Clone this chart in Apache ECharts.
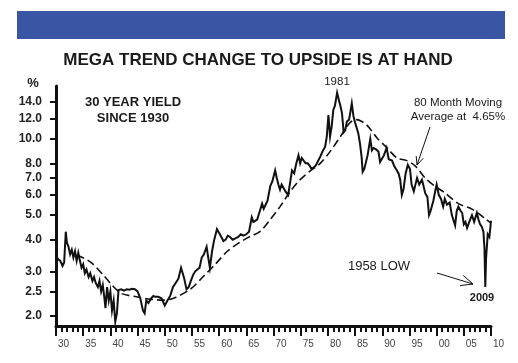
<!DOCTYPE html>
<html><head><meta charset="utf-8">
<script src="https://cdn.jsdelivr.net/npm/echarts@6/dist/echarts.min.js"></script>
<style>html,body{margin:0;padding:0;background:#fff}#c{width:518px;height:363px}</style>
</head><body><div id="c"></div><script>
// 30-year yield, [year, percent]
const yieldPoints = [
[1930.0,3.45],[1930.4,3.35],[1930.8,3.3],[1931.2,3.15],[1931.5,3.25],[1931.8,4.3],[1932.0,3.9],[1932.3,3.75],[1932.6,3.5],[1932.9,3.65],
[1933.2,3.4],[1933.5,3.6],[1933.8,3.3],[1934.1,3.55],[1934.4,3.3],[1934.7,3.1],[1935.0,3.2],[1935.3,2.95],[1935.6,3.05],[1936.0,2.85],
[1936.3,2.95],[1936.7,2.75],[1937.0,2.85],[1937.3,2.7],[1937.7,2.6],[1938.0,2.75],[1938.3,2.5],[1938.6,2.65],[1938.9,2.35],[1939.1,2.15],
[1939.4,2.6],[1939.7,2.3],[1940.0,2.5],[1940.3,2.1],[1940.6,2.3],[1940.9,1.9],[1941.2,2.05],[1941.5,2.53],[1942.0,2.55],[1942.5,2.52],
[1943.0,2.55],[1943.5,2.54],[1944.0,2.56],[1944.5,2.55],[1945.0,2.5],[1945.5,2.35],[1946.0,2.1],[1946.3,2.05],[1946.6,2.3],[1947.0,2.25],
[1947.5,2.35],[1947.9,2.4],[1948.3,2.38],[1948.8,2.38],[1949.4,2.35],[1950.0,2.2],[1950.5,2.3],[1951.0,2.4],[1951.5,2.6],[1952.0,2.7],
[1952.5,2.8],[1953.0,3.1],[1953.3,2.95],[1953.6,2.8],[1954.0,2.55],[1954.4,2.6],[1954.8,2.75],[1955.2,2.9],[1955.6,3.0],[1956.0,3.05],
[1956.4,3.1],[1956.8,3.4],[1957.2,3.5],[1957.7,3.75],[1958.0,3.4],[1958.3,3.1],[1958.7,3.6],[1959.1,4.0],[1959.6,4.4],[1960.0,4.25],
[1960.4,4.1],[1960.8,3.95],[1961.2,4.0],[1961.6,4.15],[1962.0,4.1],[1962.5,4.0],[1963.0,4.05],[1963.5,4.1],[1964.0,4.2],[1964.5,4.15],
[1965.0,4.2],[1965.5,4.3],[1966.0,4.9],[1966.3,4.7],[1966.6,4.65],[1967.0,4.8],[1967.5,5.2],[1967.9,5.55],[1968.2,5.3],[1968.5,5.25],
[1968.9,5.7],[1969.4,6.5],[1969.8,6.8],[1970.3,7.5],[1970.6,7.0],[1970.9,6.6],[1971.2,6.3],[1971.5,6.6],[1971.8,6.5],[1972.2,6.2],
[1972.7,6.0],[1973.0,6.6],[1973.4,7.5],[1973.8,7.3],[1974.2,8.0],[1974.6,8.6],[1974.9,8.0],[1975.2,8.4],[1975.5,8.3],[1975.9,8.0],
[1976.3,8.0],[1976.7,7.8],[1977.0,7.6],[1977.3,7.55],[1977.7,7.8],[1978.1,8.1],[1978.6,8.5],[1979.0,8.9],[1979.5,9.3],[1979.8,10.2],
[1980.1,12.4],[1980.4,10.2],[1980.7,11.2],[1981.0,13.0],[1981.3,13.5],[1981.7,15.2],[1982.0,14.3],[1982.3,13.5],[1982.6,12.6],[1982.9,10.6],
[1983.2,10.8],[1983.5,11.7],[1983.9,11.9],[1984.4,13.8],[1984.7,12.3],[1985.0,11.6],[1985.3,11.8],[1985.6,10.5],[1985.9,9.6],[1986.2,8.5],
[1986.4,7.4],[1986.7,7.6],[1986.9,7.7],[1987.3,8.6],[1987.8,10.0],[1988.1,9.0],[1988.4,9.2],[1988.8,9.1],[1989.3,8.9],[1989.6,8.1],
[1989.9,8.0],[1990.3,8.6],[1990.8,9.2],[1991.2,8.3],[1991.5,8.4],[1991.8,8.2],[1992.2,7.8],[1992.7,7.5],[1993.0,7.3],[1993.3,6.9],
[1993.6,6.0],[1993.9,6.3],[1994.3,7.3],[1994.7,7.9],[1995.1,7.6],[1995.4,6.6],[1995.8,6.2],[1996.1,6.3],[1996.4,7.0],[1996.8,6.6],
[1997.3,6.9],[1997.6,6.5],[1997.9,6.1],[1998.3,5.9],[1998.6,5.0],[1998.9,5.2],[1999.4,5.7],[1999.8,6.3],[2000.0,6.6],[2000.4,6.0],
[2000.8,5.8],[2001.2,5.4],[2001.5,5.8],[2001.9,5.5],[2002.4,5.6],[2002.8,5.0],[2003.1,5.0],[2003.4,4.55],[2003.7,5.2],[2004.0,5.4],
[2004.4,5.2],[2004.7,5.1],[2005.0,4.6],[2005.3,4.7],[2005.6,4.45],[2006.0,4.7],[2006.5,5.0],[2006.9,4.7],[2007.4,5.1],[2007.7,4.8],
[2008.0,4.6],[2008.3,4.5],[2008.6,4.3],[2008.8,3.7],[2008.95,2.6],[2009.1,3.4],[2009.4,4.2],[2009.7,4.1],[2009.9,4.5],[2010.0,4.75]
];
// 80-month moving average, [year, percent]
const maPoints = [
[1933.8,3.48],[1936.3,3.27],[1938.7,2.9],[1940.5,2.62],[1942.1,2.45],[1944.8,2.38],[1947.3,2.33],[1949.7,2.31],[1951.6,2.35],
[1954.7,2.55],[1957.0,2.85],[1959.3,3.2],[1961.5,3.6],[1963.6,3.88],[1965.5,4.1],[1967.5,4.3],[1969.4,4.8],[1971.2,5.4],[1973.1,6.2],
[1974.9,6.9],[1976.7,7.45],[1978.6,8.0],[1980.4,8.9],[1982.3,10.2],[1984.1,11.6],[1985.3,11.9],[1987.2,11.3],[1989.0,10.1],[1990.9,9.2],
[1992.7,8.4],[1994.5,8.2],[1996.1,7.8],[1997.9,7.0],[1999.7,6.5],[2001.6,6.1],[2004.0,5.55],[2006.5,5.28],[2008.9,4.85],[2010.0,4.65]
];
const yTickValues = [2.0,2.5,3.0,4.0,5.0,6.0,7.0,8.0,10.0,12.0,14.0];
const xMin = 1930, xMax = 2010, xStep = 5;
const yMinPct = 1.826, yMaxPct = 16.15;

const lg = v => Math.log10(v);
const chart = echarts.init(document.getElementById('c'), null, {renderer:'canvas'});

function arrow(x1,y1,x2,y2,len){
  const a = Math.atan2(y2-y1,x2-x1), s = 0.42;
  const p1 = [x2 - len*Math.cos(a-s), y2 - len*Math.sin(a-s)];
  const p2 = [x2 - len*Math.cos(a+s), y2 - len*Math.sin(a+s)];
  return [
    {type:'line', shape:{x1,y1,x2,y2}, style:{stroke:'#111', lineWidth:1}},
    {type:'polyline', shape:{points:[p1,[x2,y2],p2]}, style:{stroke:'#111', lineWidth:1, fill:null}}
  ];
}
const txt = (x,y,t,size,weight) => ({type:'text', x, y, style:{text:t, fontSize:size, fontWeight:weight, fontFamily:'Liberation Sans, Arial, sans-serif', fill:'#1a1a1a', align:'center', verticalAlign:'middle'}});

chart.setOption({
  animation:false,
  backgroundColor:'#fff',
  grid:{left:56, right:27, top:86, bottom:37},
  xAxis:{
    type:'value', min:xMin, max:xMax, interval:xStep,
    axisLine:{show:true, lineStyle:{color:'#111', width:3}},
    axisTick:{show:true, length:10, lineStyle:{color:'#111', width:2}},
    minorTick:{show:true, splitNumber:5, length:6, lineStyle:{color:'#111', width:2}},
    splitLine:{show:false},
    axisLabel:{fontSize:10, color:'#444', fontFamily:'Liberation Sans, Arial, sans-serif', align:'left', padding:[0,0,0,2], margin:13,
      formatter:v => String(v).slice(2)}
  },
  yAxis:{
    type:'value', min:lg(yMinPct), max:lg(yMaxPct),
    axisLine:{show:true, lineStyle:{color:'#111', width:3}},
    axisTick:{show:true, length:6, lineStyle:{color:'#111', width:2}, customValues:yTickValues.map(lg)},
    splitLine:{show:false},
    axisLabel:{customValues:yTickValues.map(lg), fontSize:12, fontWeight:'bold', color:'#222', margin:14,
      fontFamily:'Liberation Sans, Arial, sans-serif', formatter:v => Math.pow(10,v).toFixed(1)}
  },
  series:[
    {type:'line', data:maPoints.map(p=>[p[0],lg(p[1])]), showSymbol:false, symbol:'none', smooth:0.3,
      lineStyle:{color:'#111', width:1.6, type:[8,4]}, z:2},
    {type:'line', data:yieldPoints.map(p=>[p[0],lg(p[1])]), showSymbol:false, symbol:'none',
      lineStyle:{color:'#111', width:2, join:'miter'}, z:3}
  ],
  graphic:[
    {type:'rect', shape:{x:17, y:11, width:488, height:28}, style:{fill:'#3a55a4'}},
    txt(258,60,'MEGA TREND CHANGE TO UPSIDE IS AT HAND',17,'bold'),
    txt(33,83,'%',13,'bold'),
    txt(133,102,'30 YEAR YIELD',13,'bold'),
    txt(133,118,'SINCE 1930',13,'bold'),
    txt(337,82,'1981',11.5,'normal'),
    txt(458,103,'80 Month Moving',11.5,'normal'),
    txt(458,117,'Average at  4.65%',11.5,'normal'),
    txt(379,266,'1958 LOW',13,'normal'),
    txt(482,298,'2009',11,'bold'),
    ...arrow(430,127,417,165,9),
    ...arrow(437,273,473,284,13)
  ]
});
</script></body></html>
